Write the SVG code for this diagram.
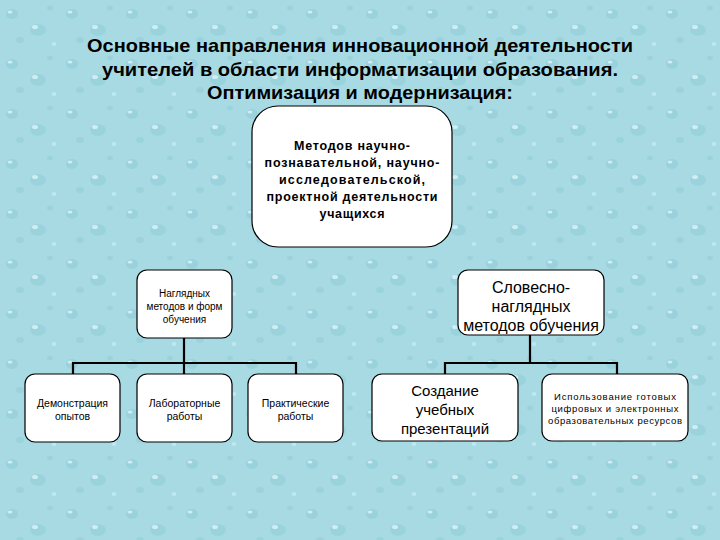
<svg xmlns="http://www.w3.org/2000/svg" width="720" height="540" viewBox="0 0 720 540">
<defs>
<pattern id="drops" width="60" height="50" patternUnits="userSpaceOnUse">
<rect width="60" height="50" fill="#a7dae3"/>
<ellipse cx="12" cy="14" rx="6" ry="5" fill="#8fcbd8" opacity="0.6"/>
<ellipse cx="10" cy="12" rx="2.5" ry="1.5" fill="#e6f8fb" opacity="0.7"/>
<ellipse cx="38" cy="30" rx="8" ry="6" fill="#8fcbd8" opacity="0.5"/>
<ellipse cx="35" cy="27" rx="3" ry="2" fill="#e6f8fb" opacity="0.7"/>
<ellipse cx="50" cy="8" rx="3" ry="2.5" fill="#8fcbd8" opacity="0.5"/>
<ellipse cx="20" cy="40" rx="4" ry="3" fill="#8fcbd8" opacity="0.5"/>
<ellipse cx="54" cy="44" rx="2.5" ry="2" fill="#c6eef4" opacity="0.7"/>
</pattern>
<style>
.box{fill:#ffffff;stroke:#000000;stroke-width:1.2}
.t{font-family:"Liberation Sans",Arial,sans-serif;fill:#000000;text-anchor:middle}
.b{font-weight:bold}
.conn{fill:none;stroke:#000000;stroke-width:2.2}
</style>
</defs>
<rect width="720" height="540" fill="url(#drops)"/>
<g id="title">
<text class="t b" x="360" y="52" font-size="19" textLength="546" lengthAdjust="spacingAndGlyphs">Основные направления инновационной деятельности</text>
<text class="t b" x="360" y="76" font-size="19" textLength="516" lengthAdjust="spacingAndGlyphs">учителей в области информатизации образования.</text>
<text class="t b" x="360" y="99" font-size="19" textLength="306" lengthAdjust="spacingAndGlyphs">Оптимизация и модернизация:</text>
</g>
<g id="connectors">
<path class="conn" d="M184 338 V363 M73 374 V363 H296 V374 M184 363 V374"/>
<path class="conn" d="M530 335 V363 M445 374 V363 H617 V374"/>
</g>
<g id="top">
<rect class="box" x="252" y="106" width="200" height="141" rx="26"/>
<text class="t b" font-size="12.5"><tspan x="352" y="150" textLength="116">Методов научно-</tspan><tspan x="352" y="167" textLength="175">познавательной, научно-</tspan><tspan x="352" y="184" textLength="146">исследовательской,</tspan><tspan x="352" y="201" textLength="171">проектной деятельности</tspan><tspan x="352" y="218" textLength="65">учащихся</tspan></text>
</g>
<g id="visual">
<rect class="box" x="137" y="270" width="95" height="68" rx="10"/>
<text class="t" font-size="10"><tspan x="184.5" y="297">Наглядных</tspan><tspan x="184.5" y="310">методов и форм</tspan><tspan x="184.5" y="323">обучения</tspan></text>
</g>
<g id="verbal">
<rect class="box" x="458" y="270" width="146" height="65" rx="10"/>
<text class="t" font-size="16"><tspan x="531" y="293">Словесно-</tspan><tspan x="531" y="312">наглядных</tspan><tspan x="531" y="331">методов обучения</tspan></text>
</g>
<g id="demo">
<rect class="box" x="25" y="374" width="95" height="68" rx="10"/>
<text class="t" font-size="10.5"><tspan x="72.5" y="407">Демонстрация</tspan><tspan x="72.5" y="420">опытов</tspan></text>
</g>
<g id="lab">
<rect class="box" x="137" y="374" width="95" height="68" rx="10"/>
<text class="t" font-size="10.5"><tspan x="184.5" y="407">Лабораторные</tspan><tspan x="184.5" y="420">работы</tspan></text>
</g>
<g id="practice">
<rect class="box" x="248" y="374" width="95" height="68" rx="10"/>
<text class="t" font-size="10.5"><tspan x="295.5" y="407">Практические</tspan><tspan x="295.5" y="420">работы</tspan></text>
</g>
<g id="presentations">
<rect class="box" x="372" y="374" width="146" height="67" rx="10"/>
<text class="t" font-size="15"><tspan x="445" y="396">Создание</tspan><tspan x="445" y="415">учебных</tspan><tspan x="445" y="434">презентаций</tspan></text>
</g>
<g id="resources">
<rect class="box" x="542" y="374" width="146" height="67" rx="10"/>
<text class="t" font-size="9.5"><tspan x="615" y="400" textLength="122">Использование готовых</tspan><tspan x="615" y="412" textLength="127">цифровых и электронных</tspan><tspan x="615" y="424" textLength="134">образовательных ресурсов</tspan></text>
</g>
</svg>
